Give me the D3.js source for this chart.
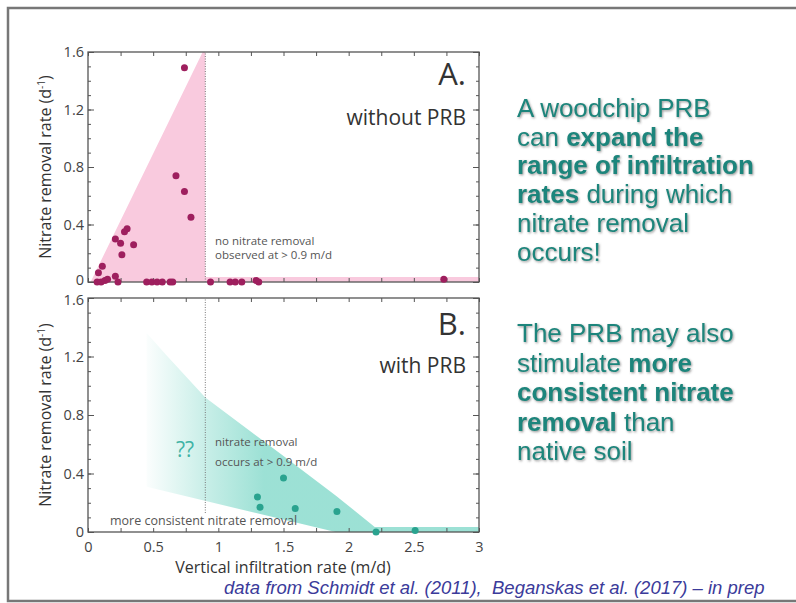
<!DOCTYPE html>
<html>
<head>
<meta charset="utf-8">
<script src="https://cdn.jsdelivr.net/npm/d3@7"></script>
<style>
  body { margin: 0; background: #fff; }
  svg { display: block; }
  .axis text { font-family: "Open Sans", Lato, sans-serif; font-size: 14.5px; fill: #444; }
  .axis line { stroke: #555; }
  .axis path { display: none; }
</style>
</head>
<body>
<div id="chart"></div>
<script>
// tick labels
var xTicks = [0, 0.5, 1, 1.5, 2, 2.5, 3];
var yTicks = [0, 0.4, 0.8, 1.2, 1.6];

// panel A: without PRB (rate in m/d, removal in 1/d)
var withoutX = [0.74, 0.675, 0.74, 0.79, 0.35, 0.30, 0.28, 0.21, 0.25, 0.26, 0.11, 0.08, 0.21, 0.07, 0.10, 0.13, 0.15, 0.23,
                0.45, 0.49, 0.53, 0.57, 0.63, 0.65, 0.94, 1.09, 1.13, 1.18, 1.29, 1.31, 2.73];
var withoutY = [1.49, 0.74, 0.63, 0.45, 0.26, 0.37, 0.35, 0.30, 0.27, 0.19, 0.11, 0.065, 0.04, 0.0, 0.0, 0.01, 0.02, 0.0,
                0, 0, 0, 0, 0, 0, 0, 0, 0, 0, 0.01, 0, 0.02];

// panel B: with PRB
var withX = [1.50, 1.30, 1.32, 1.59, 1.91, 2.21, 2.51];
var withY = [0.37, 0.24, 0.17, 0.16, 0.14, 0.0, 0.01];

// shaded zones (data space)
var zoneA = [[0.02, 0], [0.88, 1.6], [0.9, 1.6], [0.9, 0.035], [3, 0.035], [3, 0]];
var zoneB = [[0.45, 1.36], [0.6, 1.21], [0.9, 0.92], [1.5, 0.52], [1.9, 0.25], [2.2, 0.035], [3, 0.035], [3, 0],
             [1.9, 0], [1.24, 0.14], [0.45, 0.31]];
var threshold = 0.9;

// side text
var block1 = [[["A woodchip PRB", 0]], [["can ", 0], ["expand the", 1]], [["range of infiltration", 1]],
              [["rates", 1], [" during which", 0]], [["nitrate removal", 0]], [["occurs!", 0]]];
var block2 = [[["The PRB may also", 0]], [["stimulate ", 0], ["more", 1]], [["consistent nitrate", 1]],
              [["removal", 1], [" than", 0]], [["native soil", 0]]];
var caption = "data from Schmidt et al. (2011),\u00a0 Beganskas et al. (2017) \u2013 in prep";

var width = 796, height = 603;
var font = "'Open Sans', Lato, sans-serif";

var svg = d3.select("#chart").append("svg")
    .attr("width", width)
    .attr("height", height);

var defs = svg.append("defs");
var grad = defs.append("linearGradient")
    .attr("id", "tealFade")
    .attr("gradientUnits", "userSpaceOnUse");
var shadow = defs.append("filter").attr("id", "shadow").attr("x", "-5%").attr("y", "-20%").attr("width", "110%").attr("height", "140%");
shadow.append("feDropShadow").attr("dx", 1).attr("dy", 1.2).attr("stdDeviation", 0.9)
    .attr("flood-color", "#555").attr("flood-opacity", 0.6);

// slide frame
svg.append("rect")
    .attr("x", 8).attr("y", 8)
    .attr("width", 800).attr("height", 593)
    .attr("fill", "none")
    .attr("stroke", "#777")
    .attr("stroke-width", 2.5);

var x = d3.scaleLinear().domain([0, 3]).range([88, 479]);
var yA = d3.scaleLinear().domain([0, 1.6]).range([282, 52]);
var yB = d3.scaleLinear().domain([0, 1.6]).range([532, 298]);

grad.attr("x1", x(0.45)).attr("x2", x(1.35)).attr("y1", 0).attr("y2", 0);
grad.append("stop").attr("offset", 0).attr("stop-color", "#72d4c3").attr("stop-opacity", 0.03);
grad.append("stop").attr("offset", 0.55).attr("stop-color", "#72d4c3").attr("stop-opacity", 0.42);
grad.append("stop").attr("offset", 1).attr("stop-color", "#72d4c3").attr("stop-opacity", 0.7);

var fmt = function(d) { return d === 0 ? "0" : String(d); };
var minorY = d3.range(0, 17).map(function(i) { return i / 10; });
var minorX = d3.range(0, 13).map(function(i) { return i / 4; });

function drawPanel(y, zone, fill, xs, ys, color, showXLabels) {
    var g = svg.append("g");

    var line = d3.line().x(function(d) { return x(d[0]); }).y(function(d) { return y(d[1]); });
    g.append("path")
        .attr("d", line(zone) + "Z")
        .attr("fill", fill);

    // left axis
    g.append("g").attr("class", "axis")
        .attr("transform", "translate(" + x(0) + ",0)")
        .call(d3.axisLeft(y).tickValues(minorY).tickSizeInner(-3).tickSizeOuter(0).tickFormat(""));
    var left = g.append("g").attr("class", "axis")
        .attr("transform", "translate(" + x(0) + ",0)")
        .call(d3.axisLeft(y).tickValues(yTicks).tickSizeInner(-6).tickSizeOuter(0).tickPadding(4).tickFormat(fmt));
    // keep the 0 of the upper panel and 1.6 of the lower one apart
    left.selectAll("text").attr("dy", function(d) {
        if (d === 0 && !showXLabels) return "0.2em";
        if (d === 1.6 && showXLabels) return "0.42em";
        return "0.32em";
    });
    // right axis
    g.append("g").attr("class", "axis")
        .attr("transform", "translate(" + x(3) + ",0)")
        .call(d3.axisRight(y).tickValues(minorY).tickSizeInner(-3).tickSizeOuter(0).tickFormat(""));
    g.append("g").attr("class", "axis")
        .attr("transform", "translate(" + x(3) + ",0)")
        .call(d3.axisRight(y).tickValues(yTicks).tickSizeInner(-6).tickSizeOuter(0).tickFormat(""));
    // top axis
    g.append("g").attr("class", "axis")
        .attr("transform", "translate(0," + y(1.6) + ")")
        .call(d3.axisTop(x).tickValues(minorX).tickSizeInner(-4).tickSizeOuter(0).tickFormat(""));
    // bottom axis
    g.append("g").attr("class", "axis")
        .attr("transform", "translate(0," + y(0) + ")")
        .call(d3.axisBottom(x).tickValues(minorX).tickSizeInner(-4).tickSizeOuter(0).tickFormat(""));
    if (showXLabels) {
        g.append("g").attr("class", "axis")
            .attr("transform", "translate(0," + y(0) + ")")
            .call(d3.axisBottom(x).tickValues(xTicks).tickSizeInner(0).tickSizeOuter(0).tickPadding(10).tickFormat(fmt));
    }

    g.append("rect")
        .attr("x", x(0)).attr("y", y(1.6))
        .attr("width", x(3) - x(0)).attr("height", y(0) - y(1.6))
        .attr("fill", "none")
        .attr("stroke", "#555")
        .attr("stroke-width", 1.3);

    // y label
    var lab = g.append("text")
        .attr("transform", "translate(51," + (y(0.8)) + ") rotate(-90)")
        .attr("text-anchor", "middle")
        .attr("font-family", font)
        .attr("font-size", 16)
        .attr("fill", "#333")
        .text("Nitrate removal rate (d");
    lab.append("tspan").attr("dy", -6).attr("font-size", 10).text("-1");
    lab.append("tspan").attr("dy", 6).text(")");

    g.append("g").selectAll("circle")
        .data(xs.map(function(v, i) { return [v, ys[i]]; }))
        .enter()
        .append("circle")
        .attr("cx", function(d) { return x(d[0]); })
        .attr("cy", function(d) { return y(d[1]); })
        .attr("r", 3.5)
        .attr("fill", color);

    return g;
}

var gA = drawPanel(yA, zoneA, "#f9cade", withoutX, withoutY, "#9e1f5e", false);
var gB = drawPanel(yB, zoneB, "url(#tealFade)", withX, withY, "#2aa38f", true);

// threshold lines
gA.append("line")
    .attr("x1", x(threshold)).attr("x2", x(threshold))
    .attr("y1", yA(0)).attr("y2", yA(1.6))
    .attr("stroke", "#777").attr("stroke-width", 1).attr("stroke-dasharray", "1,1.5");
gB.append("line")
    .attr("x1", x(threshold)).attr("x2", x(threshold))
    .attr("y1", yB(0.13)).attr("y2", yB(1.6))
    .attr("stroke", "#777").attr("stroke-width", 1).attr("stroke-dasharray", "1,1.5");

function addText(g, tx, ty, str, size, anchor, fill) {
    return g.append("text")
        .attr("x", tx).attr("y", ty)
        .attr("text-anchor", anchor)
        .attr("font-family", font)
        .attr("font-size", size)
        .attr("fill", fill)
        .text(str);
}

addText(gA, 466, 85, "A.", 31, "end", "#333");
addText(gA, 466, 125, "without PRB", 21, "end", "#333");
addText(gA, 215, 245, "no nitrate removal", 11.5, "start", "#555");
addText(gA, 215, 259, "observed at > 0.9 m/d", 11.5, "start", "#555");

addText(gB, 466, 335, "B.", 31, "end", "#333");
addText(gB, 466, 373, "with PRB", 21, "end", "#333");
addText(gB, 215, 446, "nitrate removal", 11.5, "start", "#555");
addText(gB, 215, 466, "occurs at > 0.9 m/d", 11.5, "start", "#555");
addText(gB, 176, 457, "??", 21, "start", "#3fb3a6");
addText(gB, 110, 525, "more consistent nitrate removal", 12.5, "start", "#555");

// x label
addText(svg, 283, 573, "Vertical infiltration rate (m/d)", 16, "middle", "#333");

// side messages
function addBlock(lines, top, step) {
    var t = svg.append("text")
        .attr("font-family", "'Liberation Sans', Arial, sans-serif")
        .attr("font-size", 26)
        .attr("fill", "#1b857b")
        .attr("filter", "url(#shadow)");
    lines.forEach(function(parts, i) {
        parts.forEach(function(p, j) {
            var s = t.append("tspan")
                .attr("font-weight", p[1] ? "bold" : "normal")
                .text(p[0]);
            if (j === 0) s.attr("x", 517).attr("y", top + i * step);
        });
    });
}
addBlock(block1, 117, 28.7);
addBlock(block2, 342, 29.5);

// caption
svg.append("text")
    .attr("x", 224).attr("y", 594)
    .attr("font-family", "'Liberation Sans', Arial, sans-serif")
    .attr("font-style", "italic")
    .attr("font-size", 18.5)
    .attr("fill", "#3b3b9a")
    .text(caption);
</script>
</body>
</html>
